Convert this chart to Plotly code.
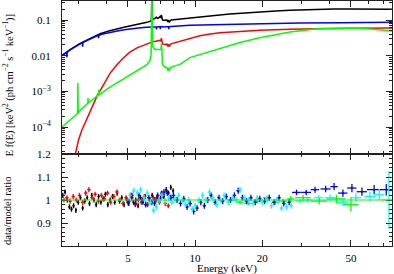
import plotly.graph_objects as go
from plotly.subplots import make_subplots

# ---------------- model curves (top panel), E f(E) ----------------
black_E = [2.53, 2.75, 3.05, 3.4, 3.75, 4.1, 4.47, 4.85, 5.27, 5.7, 6.08, 6.3, 6.37, 6.40, 6.43, 6.5, 6.6, 6.7,
           6.8, 6.9, 6.96, 7.02, 7.06, 7.1, 7.14, 7.3, 7.48, 7.55, 7.6, 7.65, 7.8, 8.0, 8.29, 8.6, 9.48, 10.5,
           11.5, 12.9, 14.3, 15.9, 19.5, 23, 26.6, 31, 36.3, 42, 49.5, 60.8, 76.4]
black_F = [0.0102, 0.0148, 0.022, 0.031, 0.041, 0.049, 0.057, 0.064, 0.071, 0.078, 0.086, 0.093, 0.1, 0.7, 0.115,
           0.108, 0.11, 0.12, 0.11, 0.118, 0.125, 0.115, 0.14, 0.118, 0.1, 0.098, 0.1, 0.088, 0.1, 0.086, 0.1,
           0.102, 0.104, 0.106, 0.112, 0.12, 0.128, 0.138, 0.147, 0.155, 0.17, 0.18, 0.188, 0.195, 0.2, 0.203,
           0.205, 0.204, 0.2]

blue_E = [2.53, 2.65, 2.66, 2.67, 2.75, 2.9, 3.05, 3.12, 3.13, 3.14, 3.25, 3.4, 3.6, 3.68, 3.69, 3.7, 3.9, 4.2,
          4.6, 5.0, 5.27, 5.7, 6.08, 6.3, 6.4, 6.45, 6.6, 6.7, 6.71, 6.72, 6.9, 6.97, 6.98, 6.99, 7.1, 7.2, 7.5,
          7.6, 7.62, 7.64, 7.8, 8.2, 9.48, 12, 15.9, 22, 29.5, 45, 76.4]
blue_F = [0.0100, 0.0123, 0.009, 0.0126, 0.0145, 0.018, 0.0215, 0.0232, 0.018, 0.0235, 0.026, 0.03, 0.035, 0.037,
          0.031, 0.0375, 0.041, 0.046, 0.051, 0.055, 0.058, 0.061, 0.063, 0.064, 0.066, 0.064, 0.064, 0.064,
          0.054, 0.064, 0.065, 0.065, 0.055, 0.065, 0.066, 0.064, 0.065, 0.065, 0.055, 0.065, 0.066, 0.068,
          0.071, 0.074, 0.077, 0.08, 0.082, 0.084, 0.086]

red_E = [2.80, 2.90, 3.0, 3.1, 3.27, 3.45, 3.63, 3.9, 4.15, 4.45, 4.75, 5.1, 5.49, 5.9, 6.28, 6.37, 6.40, 6.43,
         6.6, 6.8, 6.96, 7.03, 7.06, 7.09, 7.14, 7.3, 7.48, 7.56, 7.6, 7.64, 7.8, 8.29, 9.0, 9.48, 10.5, 11.5,
         12.9, 15.9, 19.5, 26.6, 36.3, 49.5, 76.4]
red_F = [6.5e-6, 1.9e-5, 4.3e-5, 8e-5, 1.7e-4, 3.8e-4, 7.3e-4, 1.6e-3, 3.2e-3, 5.5e-3, 8.5e-3, 0.0125, 0.0165,
         0.0198, 0.023, 0.024, 0.028, 0.025, 0.025, 0.026, 0.027, 0.026, 0.031, 0.027, 0.021, 0.0205, 0.021,
         0.018, 0.021, 0.018, 0.0215, 0.024, 0.028, 0.031, 0.036, 0.040, 0.044, 0.048, 0.052, 0.055, 0.058,
         0.059, 0.060]

green_E = [2.53, 2.75, 2.95, 2.97, 2.98, 2.99, 3.05, 3.3, 3.31, 3.32, 3.63, 3.69, 3.70, 3.71, 4.1, 4.47, 5.27,
           6.08, 6.28, 6.35, 6.40, 6.42, 6.45, 6.6, 6.8, 6.96, 7.03, 7.06, 7.09, 7.14, 7.3, 7.48, 7.56, 7.6,
           7.64, 7.8, 8.29, 8.55, 9.48, 10.5, 12.9, 15.9, 19.5, 26.6, 36.3, 49.5, 60.8, 76.4]
green_F = [1.0e-4, 1.55e-4, 2.3e-4, 2.4e-4, 1.7e-3, 2.45e-4, 2.9e-4, 4.6e-4, 6.5e-4, 4.7e-4, 7.3e-4, 7.9e-4,
           1.1e-3, 8e-4, 1.25e-3, 1.75e-3, 3.3e-3, 5.6e-3, 7.5e-3, 0.011, 0.7, 0.022, 0.018, 0.015, 0.0145,
           0.0148, 0.015, 0.021, 0.016, 0.0056, 0.0048, 0.0046, 0.0038, 0.0046, 0.0038, 0.0048, 0.0053, 0.0057,
           0.0088, 0.0107, 0.016, 0.0235, 0.032, 0.046, 0.058, 0.059, 0.056, 0.0495]

# ---------------- data/model ratio (bottom panel) ----------------
black_rE = [2.55, 2.61, 2.67, 2.73, 2.79, 2.85, 2.92, 2.99, 3.06, 3.13, 3.20, 3.28, 3.36, 3.44, 3.52, 3.60, 3.69,
            3.78, 3.87, 3.96, 4.06, 4.16, 4.26, 4.36, 4.47, 4.58, 4.69, 4.80, 4.92, 5.04, 5.16, 5.29, 5.42, 5.55,
            5.69, 5.83, 5.97, 6.12, 6.27, 6.42, 6.58, 6.74, 6.90, 7.07, 7.24, 7.42, 7.60, 7.78, 7.97]
black_r = [1.02, 1.035, 1.0, 0.97, 0.96, 0.975, 0.955, 0.99, 1.01, 0.965, 0.995, 1.01, 0.985, 1.02, 1.0, 0.98,
           1.015, 0.99, 1.005, 1.025, 0.98, 1.0, 1.015, 0.99, 1.03, 0.995, 1.01, 0.98, 1.005, 0.985, 1.02, 0.99,
           1.0, 0.975, 1.01, 0.99, 1.015, 0.98, 1.0, 1.02, 0.985, 1.01, 1.0, 1.03, 1.015, 1.045, 1.03, 1.055, 1.04]

red_rE = [2.58, 2.66, 2.75, 2.84, 2.93, 3.03, 3.13, 3.23, 3.34, 3.45, 3.56, 3.68, 3.80, 3.92, 4.05, 4.18, 4.32,
          4.46, 4.60, 4.75, 4.90, 5.06, 5.22, 5.39, 5.56, 5.74, 5.92, 6.11, 6.30, 6.50, 6.70, 6.91, 7.13, 7.35,
          7.58, 7.82]
red_r = [1.0, 1.01, 0.995, 1.015, 1.0, 1.02, 0.99, 1.03, 1.045, 1.01, 1.025, 0.995, 1.02, 1.005, 1.03, 0.99,
         1.015, 1.035, 1.0, 0.985, 1.01, 0.995, 1.02, 0.98, 1.0, 0.99, 1.015, 0.98, 0.995, 1.01, 1.0, 0.99, 1.02,
         0.985, 0.975, 1.01]

blue_rE = [5.0, 5.2, 5.4, 5.6, 5.8, 6.0, 6.2, 6.4, 6.6, 6.8, 7.0, 7.25, 7.5, 7.75, 8.0, 8.3, 8.6, 8.9, 9.2, 9.5,
           9.85, 10.2, 10.6, 11.0, 11.4, 11.8, 12.3, 12.8, 13.3, 13.8, 14.4, 15.0, 15.6, 16.3, 17.0, 17.8, 18.6,
           19.5, 20.5, 21.5, 22.6, 23.8, 25.0, 26.4]
blue_r = [0.99, 1.01, 0.985, 1.02, 1.0, 0.98, 1.01, 0.99, 1.0, 1.02, 1.01, 1.035, 1.03, 1.01, 1.02, 1.0, 0.985,
          1.005, 0.97, 0.985, 0.95, 0.965, 0.99, 0.975, 1.0, 1.02, 0.99, 1.01, 0.995, 1.015, 1.0, 1.02, 1.04, 1.01,
          0.995, 1.01, 0.99, 1.005, 0.995, 1.01, 0.99, 1.01, 0.985, 0.99]
blue_wE = [28.5, 31.5, 34.5, 38.5, 42.0, 46.0, 50.5, 56.0, 63.5, 72.0]
blue_wr = [1.033, 1.033, 1.045, 1.048, 1.058, 1.03, 1.052, 1.036, 1.045, 1.045]
blue_wdE = [1.3, 1.6, 1.5, 2.0, 1.6, 2.2, 2.4, 3.0, 4.5, 5.0]
blue_wdr = [0.012, 0.012, 0.013, 0.014, 0.016, 0.016, 0.018, 0.018, 0.02, 0.025]

cyan_rE = [5.1, 5.3, 5.5, 5.7, 5.9, 6.1, 6.3, 6.5, 6.7, 6.9, 7.1, 7.35, 7.6, 7.85, 8.1, 8.45, 8.75, 9.05, 9.35,
           9.7, 10.0, 10.4, 10.8, 11.2, 11.6, 12.0, 12.5, 13.0, 13.5, 14.1, 14.7, 15.3, 15.9, 16.6, 17.4, 18.2,
           19.0, 20.0, 21.0, 22.0, 23.2, 24.4, 25.7, 27.0]
cyan_r = [1.02, 1.04, 1.03, 1.045, 1.01, 1.03, 0.99, 0.955, 0.97, 1.0, 1.02, 0.995, 1.01, 0.99, 1.005, 1.02, 1.0,
          0.98, 1.0, 0.96, 0.975, 1.0, 1.02, 1.0, 1.035, 1.01, 0.98, 1.0, 1.02, 0.99, 1.01, 1.0, 1.045, 1.01, 1.0,
          0.985, 1.01, 0.99, 1.0, 0.975, 1.0, 0.965, 0.97, 0.975]
cyan_wE = [29.5, 32.0, 35.8, 40.3, 46.0, 52.6, 60.8, 67.0, 74.0]
cyan_wr = [0.995, 1.0, 1.01, 1.01, 0.99, 1.01, 1.015, 1.024, 1.0]
cyan_wdE = [1.3, 1.4, 1.8, 2.2, 2.5, 3.0, 3.5, 3.5, 5.0]
cyan_wdr = [0.01, 0.012, 0.012, 0.014, 0.015, 0.018, 0.02, 0.025, 0.125]

green_rE = [14.6, 15.9, 17.3, 19.0, 21.0, 22.9, 24.8, 26.8, 30.5, 36.0, 43.0, 50.0]
green_r = [1.0, 0.99, 0.985, 0.995, 1.01, 0.99, 0.995, 1.005, 1.01, 0.995, 1.005, 0.98]
green_dE = [0.6, 0.6, 0.7, 0.8, 0.9, 0.9, 1.0, 1.0, 2.5, 3.0, 4.0, 4.0]
green_dr = [0.008, 0.008, 0.009, 0.01, 0.01, 0.011, 0.012, 0.012, 0.012, 0.015, 0.018, 0.03]

x_major = [5, 10, 20, 50]
x_minor = [3, 4, 6, 7, 8, 9, 30, 40, 60, 70]
top_major = [1e-4, 1e-3, 0.01, 0.1]
top_labels = ["10<sup>\u22124</sup>", "10<sup>\u22123</sup>", "0.01", "0.1"]
bot_major = [0.9, 1.0, 1.1, 1.2]
bot_labels = ["0.9", "1", "1.1", "1.2"]

BLACK, RED, BLUE, GREEN, CYAN = "#000000", "#ff0000", "#0000ff", "#00ff00", "#00ffff"
FONT = "Liberation Serif"

H_TOP, H_BOT = 153, 92
fig = make_subplots(rows=2, cols=1, shared_xaxes=True, vertical_spacing=0,
                    row_heights=[H_TOP / (H_TOP + H_BOT), H_BOT / (H_TOP + H_BOT)])

for xs, ys, c in [(black_E, black_F, BLACK), (red_E, red_F, RED), (blue_E, blue_F, BLUE), (green_E, green_F, GREEN)]:
    fig.add_trace(go.Scatter(x=xs, y=ys, mode="lines", line=dict(color=c, width=1.5), showlegend=False,
                             hoverinfo="skip"), row=1, col=1)


def ratio_trace(xs, ys, c, dx=None, dxpct=None, dy=None, dyv=None):
    ex = dict(type="data", array=dx, color=c, thickness=1.3, width=0) if dx is not None else \
        dict(type="percent", value=dxpct, color=c, thickness=1.3, width=0)
    ey = dict(type="data", array=dy, color=c, thickness=1.3, width=0) if dy is not None else \
        dict(type="constant", value=dyv, color=c, thickness=1.3, width=0)
    return go.Scatter(x=xs, y=ys, mode="markers", marker=dict(color=c, size=2), error_x=ex, error_y=ey,
                      showlegend=False, hoverinfo="skip")


fig.add_trace(ratio_trace(black_rE, black_r, BLACK, dxpct=1.0, dyv=0.011), row=2, col=1)
fig.add_trace(ratio_trace(red_rE, red_r, RED, dxpct=1.8, dyv=0.011), row=2, col=1)
fig.add_trace(ratio_trace(green_rE, green_r, GREEN, dx=green_dE, dy=green_dr), row=2, col=1)
fig.add_trace(ratio_trace(blue_rE, blue_r, BLUE, dxpct=1.8, dyv=0.013), row=2, col=1)
fig.add_trace(ratio_trace(blue_wE, blue_wr, BLUE, dx=blue_wdE, dy=blue_wdr), row=2, col=1)
fig.add_trace(ratio_trace(cyan_rE, cyan_r, CYAN, dxpct=1.8, dyv=0.013), row=2, col=1)
fig.add_trace(ratio_trace(cyan_wE, cyan_wr, CYAN, dx=cyan_wdE, dy=cyan_wdr), row=2, col=1)
fig.add_hline(y=1.0, line=dict(color=GREEN, width=1.2), row=2, col=1)

axis_common = dict(showline=True, linecolor="#222222", linewidth=1, mirror="ticks", ticks="inside",
                   ticklen=6, tickcolor="#222222", showgrid=False, zeroline=False, automargin=False,
                   tickfont=dict(family=FONT, size=11, color="#000000"))
xr = [0.403, 1.883]
fig.update_xaxes(type="log", range=xr, tickmode="array", tickvals=x_major, ticktext=[str(v) for v in x_major],
                 minor=dict(tickmode="array", tickvals=x_minor, ticks="inside", ticklen=3, tickcolor="#222222"),
                 **axis_common)
fig.update_xaxes(showticklabels=False, row=1, col=1)
fig.update_xaxes(ticklabelstandoff=2, row=2, col=1)

top_minor = [m * 10 ** k for k in range(-5, 0) for m in range(2, 10)]
fig.update_yaxes(type="log", range=[-4.757, -0.467], tickmode="array", tickvals=top_major, ticktext=top_labels,
                 minor=dict(tickmode="array", tickvals=top_minor, ticks="inside", ticklen=3, tickcolor="#222222"),
                 ticklabelstandoff=8, row=1, col=1, **axis_common)
bot_minor = [0.82, 0.84, 0.86, 0.88, 0.92, 0.94, 0.96, 0.98, 1.02, 1.04, 1.06, 1.08, 1.12, 1.14, 1.16, 1.18]
fig.update_yaxes(range=[0.8, 1.2], tickmode="array", tickvals=bot_major, ticktext=bot_labels,
                 minor=dict(tickmode="array", tickvals=bot_minor, ticks="inside", ticklen=3, tickcolor="#222222"),
                 ticklabelstandoff=8, row=2, col=1, **axis_common)

fig.add_annotation(text="E f(E) [keV<sup>2</sup> (ph cm<sup>\u22122</sup> s<sup>\u22121</sup> keV<sup>\u22121</sup>)]",
                   xref="paper", yref="paper", x=-0.1636, y=0.655, textangle=-90, showarrow=False,
                   xanchor="center", yanchor="middle", font=dict(family=FONT, size=10.5, color="#000000"))
fig.add_annotation(text="data/model ratio", xref="paper", yref="paper", x=-0.1636, y=0.143, textangle=-90,
                   showarrow=False, xanchor="center", yanchor="middle",
                   font=dict(family=FONT, size=10.5, color="#000000"))
fig.add_annotation(text="Energy (keV)", xref="paper", yref="paper", x=0.5, y=-0.09, showarrow=False,
                   xanchor="center", yanchor="middle", font=dict(family=FONT, size=11, color="#000000"))

fig.update_layout(width=394, height=274, margin=dict(l=62, r=2, t=1, b=28, autoexpand=False),
                  plot_bgcolor="white", paper_bgcolor="white", showlegend=False, hovermode=False)
fig.write_html("out.html", config={"displayModeBar": False, "staticPlot": True},
               post_script="document.body.style.margin='0px';")
